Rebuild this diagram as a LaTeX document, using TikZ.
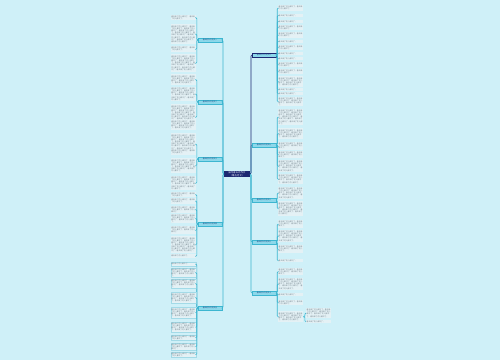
\documentclass[tikz,border=0pt]{standalone}
\usepackage{fontspec}
\newfontfamily\cjk{Noto Sans CJK SC}
\XeTeXlinebreaklocale "zh"
\XeTeXlinebreakskip=0pt plus 0.3pt
\usetikzlibrary{positioning}

\definecolor{bgcyan}{HTML}{CFF0F8}
\definecolor{rootcol}{HTML}{1C2872}
\definecolor{linkcol}{HTML}{3DB6D0}
\definecolor{branchfill}{HTML}{8DD8EA}
\definecolor{branchtext}{HTML}{1D3C7C}
\definecolor{leaffill}{HTML}{E4F1F5}
\definecolor{leaftext}{HTML}{6E7E88}
\definecolor{leafline}{HTML}{A3DAE7}

\tikzset{
  root/.style={fill=rootcol, text=white, font=\cjk\fontsize{2.2}{2.9}\selectfont,
    text width=24pt, align=center, inner sep=0.8pt},
  branch/.style={fill=branchfill, draw=linkcol, line width=0.4pt, text=branchtext,
    font=\cjk\fontsize{1.8}{2.2}\selectfont, minimum width=24pt, minimum height=3.6pt, inner sep=0.3pt},
  leaf/.style={fill=leaffill, text=leaftext, font=\cjk\fontsize{1.8}{2.1}\selectfont,
    text width=24pt, inner sep=0.5pt, align=left},
  leafbox/.style={leaf, draw=leafline, line width=0.3pt},
  link/.style={draw=linkcol, line width=0.6pt, rounded corners=1pt},
  darklink/.style={link, draw=rootcol}
}

\newcommand\blurb[1]{\foreach \k in {1,...,#1}{春天来了花儿都开了，}}

\begin{document}
\begin{tikzpicture}[x=1pt, y=-1pt]
\fill [bgcyan] (0,0) rectangle (500,360);
\useasboundingbox (0,0) rectangle (500,360);

% centre and main branches
\node [root] (root) at (237,174) {描写春天的作文\\（精选范文）};

\node [branch] (L1) at (210,40)  {春天的作文范文一};
\node [branch] (L2) at (210,102) {春天的作文范文二};
\node [branch] (L3) at (210,159) {春天的作文范文三};
\node [branch] (L4) at (210,224) {春天的作文范文四};
\node [branch] (L5) at (210,308) {春天的作文范文五};
\node [branch, draw=rootcol] (R1) at (264,55)  {春天的作文范文六};
\node [branch] (R2) at (264,145) {春天的作文范文七};
\node [branch] (R3) at (264,200) {春天的作文范文八};
\node [branch] (R4) at (264,242) {春天的作文范文九};
\node [branch] (R5) at (264,293) {春天的作文范文十};

\foreach \b in {L1,L2,L3,L4,L5}
  \draw [link] (root.west) -- ++(-1,0) |- (\b.east);
\foreach \b in {R2,R3,R4,R5}
  \draw [link] (root.east) -- ++(1,0) |- (\b.west);
\draw [darklink] (root.east) -- ++(1,0) |- (R1.west);

% left leaves
\foreach \y/\h [count=\i] in {15/5,24/20,46/6,54/18} {
  \pgfmathtruncatemacro\n{max(1,floor((\h-1)/2.1*1.2))}
  \node [leaf, minimum height=\h, anchor=north east] (la\i) at (196,\y) {\blurb{\n}};
  \draw [link] (L1.west) -- ++(-1,0) |- (la\i.east);
}
\foreach \y/\h [count=\i] in {74/11,87/14,104/26} {
  \pgfmathtruncatemacro\n{max(1,floor((\h-1)/2.1*1.2))}
  \node [leaf, minimum height=\h, anchor=north east] (lb\i) at (196,\y) {\blurb{\n}};
  \draw [link] (L2.west) -- ++(-1,0) |- (lb\i.east);
}
\foreach \y/\h [count=\i] in {133/22,158/15,176/14} {
  \pgfmathtruncatemacro\n{max(1,floor((\h-1)/2.1*1.2))}
  \node [leaf, minimum height=\h, anchor=north east] (lc\i) at (196,\y) {\blurb{\n}};
  \draw [link] (L3.west) -- ++(-1,0) |- (lc\i.east);
}
\foreach \y/\h [count=\i] in {192/5,198/6,206/7,214/9,226/8,236/17,254/4} {
  \pgfmathtruncatemacro\n{max(1,floor((\h-1)/2.1*1.2))}
  \node [leaf, minimum height=\h, anchor=north east] (ld\i) at (196,\y) {\blurb{\n}};
  \draw [link] (L4.west) -- ++(-1,0) |- (ld\i.east);
}
\foreach \y/\h [count=\i] in {262/4,268/9,279/9,292/11,307/11,322/10,335/5,343/7,352/5} {
  \pgfmathtruncatemacro\n{max(1,floor((\h-1)/2.1*1.2))}
  \node [leafbox, minimum height=\h, anchor=north east] (le\i) at (196,\y) {\blurb{\n}};
  \draw [link] (L5.west) -- ++(-1,0) |- (le\i.east);
}

% right leaves
\foreach \y/\h [count=\i] in {5/6,14/3,20/3,25/5,32/6,40/3,45/5,52/3,57/3,62/5,69/5,76/11,88/3,92/3,97/9} {
  \pgfmathtruncatemacro\n{max(1,floor((\h-1)/2.1*1.2))}
  \node [leaf, minimum height=\h, anchor=north west] (ra\i) at (278,\y) {\blurb{\n}};
  \draw [link] (R1.east) -- ++(1,0) |- (ra\i.west);
}
\foreach \y/\h [count=\i] in {109/16,128/11,142/8,151/7,160/12,174/10} {
  \pgfmathtruncatemacro\n{max(1,floor((\h-1)/2.1*1.2))}
  \node [leaf, minimum height=\h, anchor=north west] (rb\i) at (278,\y) {\blurb{\n}};
  \draw [link] (R2.east) -- ++(1,0) |- (rb\i.west);
}
\foreach \y/\h [count=\i] in {187/12,201/15} {
  \pgfmathtruncatemacro\n{max(1,floor((\h-1)/2.1*1.2))}
  \node [leaf, minimum height=\h, anchor=north west] (rc\i) at (278,\y) {\blurb{\n}};
  \draw [link] (R3.east) -- ++(1,0) |- (rc\i.west);
}
\foreach \y/\h [count=\i] in {220/8,230/12,245/8,259/3} {
  \pgfmathtruncatemacro\n{max(1,floor((\h-1)/2.1*1.2))}
  \node [leaf, minimum height=\h, anchor=north west] (rd\i) at (278,\y) {\blurb{\n}};
  \draw [link] (R4.east) -- ++(1,0) |- (rd\i.west);
}
\foreach \y/\h [count=\i] in {268/7,278/12,293/3,300/5,311/11} {
  \pgfmathtruncatemacro\n{max(1,floor((\h-1)/2.1*1.2))}
  \node [leaf, minimum height=\h, anchor=north west] (re\i) at (278,\y) {\blurb{\n}};
  \draw [link] (R5.east) -- ++(1,0) |- (re\i.west);
}

% sub leaves
\node [leaf, minimum height=10, anchor=north west] (rf1) at (306,308) {\blurb{5}};
\node [leaf, minimum height=3, anchor=north west] (rf2) at (306,320) {\blurb{1}};
\foreach \s in {rf1,rf2}
  \draw [link] (re5.east) -- ++(1.5,0) |- (\s.west);
\end{tikzpicture}
\end{document}
